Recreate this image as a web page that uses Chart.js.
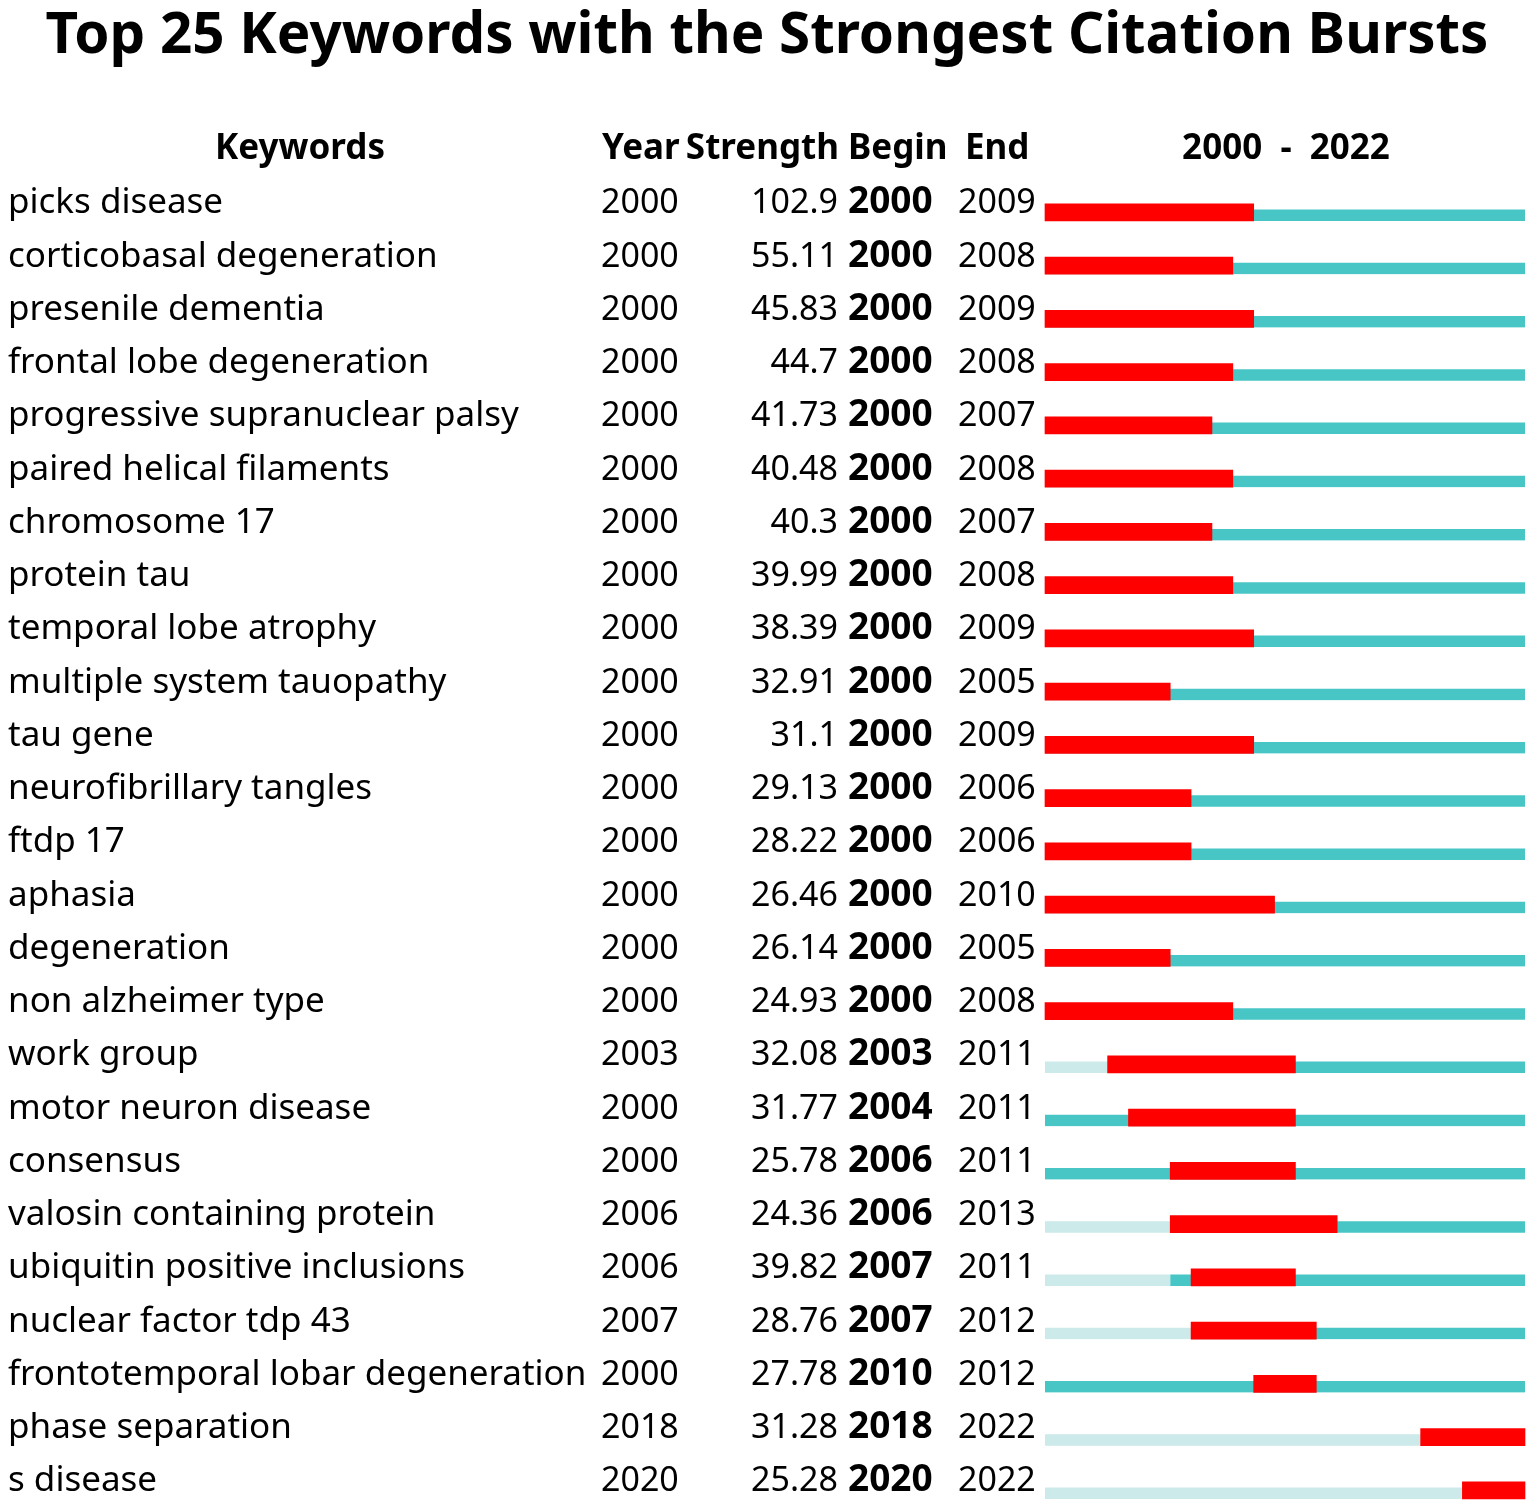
<!DOCTYPE html>
<html>
<head>
<meta charset="utf-8">
<script src="https://cdn.jsdelivr.net/npm/chart.js@4.4.1/dist/chart.umd.min.js"></script>
<style>
html,body{margin:0;padding:0;background:#fff;}
canvas{display:block;}
</style>
</head>
<body>
<canvas id="c" width="1535" height="1505"></canvas>
<script>
const keywords = ["picks disease","corticobasal degeneration","presenile dementia","frontal lobe degeneration","progressive supranuclear palsy","paired helical filaments","chromosome 17","protein tau","temporal lobe atrophy","multiple system tauopathy","tau gene","neurofibrillary tangles","ftdp 17","aphasia","degeneration","non alzheimer type","work group","motor neuron disease","consensus","valosin containing protein","ubiquitin positive inclusions","nuclear factor tdp 43","frontotemporal lobar degeneration","phase separation","s disease"];
const years = [2000,2000,2000,2000,2000,2000,2000,2000,2000,2000,2000,2000,2000,2000,2000,2000,2003,2000,2000,2006,2006,2007,2000,2018,2020];
const strengths = ["102.9","55.11","45.83","44.7","41.73","40.48","40.3","39.99","38.39","32.91","31.1","29.13","28.22","26.46","26.14","24.93","32.08","31.77","25.78","24.36","39.82","28.76","27.78","31.28","25.28"];
const begins = [2000,2000,2000,2000,2000,2000,2000,2000,2000,2000,2000,2000,2000,2000,2000,2000,2003,2004,2006,2006,2007,2007,2010,2018,2020];
const ends = [2009,2008,2009,2008,2007,2008,2007,2008,2009,2005,2009,2006,2006,2010,2005,2008,2011,2011,2011,2013,2011,2012,2012,2022,2022];
const startYear = 2000, endYear = 2022;
const headers = ["Keywords","Year","Strength","Begin","End", startYear + " - " + endYear];

const lightData = years.map(y => y > startYear ? [startYear, y] : null);
const tealData = years.map(y => [y, endYear + 1]);
const redData = begins.map((b, i) => [b, ends[i] + 1]);

const FONT = "'Noto Sans', sans-serif";

const textPlugin = {
  id: 'tableText',
  afterDraw(chart) {
    const ctx = chart.ctx;
    const yS = chart.scales.y;
    ctx.save();
    ctx.fillStyle = '#000';
    ctx.textBaseline = 'alphabetic';
    // title
    ctx.font = "bold 56.5px " + FONT;
    ctx.textAlign = 'center';
    ctx.fillText("Top 25 Keywords with the Strongest Citation Bursts", 767, 53);
    // headers
    ctx.font = "bold 35px " + FONT;
    const hy = 159;
    ctx.textAlign = 'center'; ctx.fillText(headers[0], 300, hy);
    ctx.textAlign = 'left'; ctx.fillText(headers[1], 602, hy);
    ctx.textAlign = 'right'; ctx.fillText(headers[2], 839, hy);
    ctx.textAlign = 'left'; ctx.fillText(headers[3], 848, hy);
    ctx.textAlign = 'left'; ctx.fillText(headers[4], 965, hy);
    ctx.textAlign = 'center'; ctx.fillText(headers[5].replace(' - ', '  -  '), 1286, hy);
    // rows
    keywords.forEach((k, i) => {
      const y = yS.getPixelForTick(i) + 1;
      ctx.font = "35px " + FONT;
      ctx.textAlign = 'left'; ctx.fillText(k, 8, y);
      ctx.font = "34px " + FONT;
      ctx.fillText(String(years[i]), 601, y);
      ctx.textAlign = 'right'; ctx.fillText(strengths[i], 838, y);
      ctx.font = "bold 37px " + FONT;
      ctx.textAlign = 'left'; ctx.fillText(String(begins[i]), 848, y);
      ctx.font = "34px " + FONT;
      ctx.fillText(String(ends[i]), 958, y);
    });
    ctx.restore();
  }
};

const thinBar = {
  barThickness: 17,
  borderWidth: {top: 6, bottom: 0, left: 0, right: 0},
  borderColor: 'rgba(0,0,0,0)',
  borderSkipped: false,
  grouped: false,
  clip: false,
  order: 1
};

new Chart(document.getElementById('c'), {
  type: 'bar',
  data: {
    labels: keywords,
    datasets: [
      Object.assign({label: 'before', data: lightData, backgroundColor: '#cdeaea'}, thinBar),
      Object.assign({label: 'cited', data: tealData, backgroundColor: '#48c6c6'}, thinBar),
      {label: 'burst', data: redData, backgroundColor: '#ff0000', barThickness: 17, borderWidth: 0, grouped: false, clip: false, order: 0}
    ]
  },
  options: {
    indexAxis: 'y',
    responsive: false,
    animation: false,
    devicePixelRatio: 1,
    layout: {padding: {left: 1045, right: 10, top: 212.4, bottom: 14.6}},
    plugins: {legend: {display: false}, tooltip: {enabled: false}, title: {display: false}},
    scales: {
      x: {
        type: 'linear', min: startYear, max: endYear + 1,
        z: 1,
        ticks: {display: false, stepSize: 1},
        grid: {color: 'rgba(255,255,255,0.4)', lineWidth: 1, drawTicks: false},
        border: {display: false}
      },
      y: {
        type: 'category', offset: false, display: false
      }
    }
  },
  plugins: [textPlugin]
});
</script>
</body>
</html>
